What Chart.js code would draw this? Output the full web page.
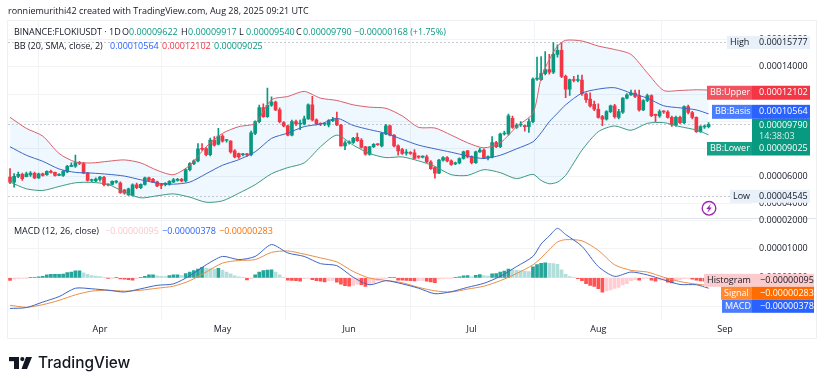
<!DOCTYPE html>
<html>
<head>
<meta charset="utf-8">
<title>FLOKIUSDT</title>
<script src="https://cdn.jsdelivr.net/npm/chart.js@4"></script>
<style>
    body { margin: 0; background: #fff; }
    canvas { display: block; }
</style>
</head>
<body>
<canvas id="chart" width="825" height="385"></canvas>
<script>
// all prices and MACD values are in units of 0.00001
const opens = [
    5.95,5.58,6.0,6.15,5.98,6.1,6.22,5.88,6.19,6.12,
    6.37,6.29,6.07,6.07,6.32,6.73,6.75,7.0,6.93,6.24,
    5.7,5.66,5.78,5.93,5.39,5.41,5.58,5.51,5.0,4.65,
    4.6,5.39,5.17,5.41,5.9,5.78,5.6,5.41,5.39,5.41,
    5.58,5.7,5.78,5.66,6.49,6.93,7.13,8.03,8.03,7.59,
    8.65,8.35,8.94,8.62,8.57,7.86,7.66,7.58,7.6,7.59,
    9.14,9.99,11.02,10.36,11.19,11.42,10.85,9.92,9.68,9.01,
    9.99,9.82,9.82,10.19,11.22,10.12,9.82,9.8,9.75,10.07,
    10.19,9.75,8.23,8.45,8.47,8.84,8.65,8.16,7.6,8.16,
    8.33,8.23,9.09,9.68,9.01,8.23,7.96,7.7,7.71,7.71,
    7.42,7.4,7.42,7.05,6.64,6.24,7.18,7.37,7.13,6.9,
    6.98,7.3,7.86,7.42,7.0,7.79,7.91,7.37,7.42,8.47,
    8.16,9.09,9.1,10.24,9.57,9.75,9.7,9.63,9.99,13.1,
    13.06,13.5,13.79,13.6,14.9,15.19,13.3,12.37,13.06,13.0,
    13.02,12.03,11.64,11.25,10.9,10.36,10.17,10.73,11.15,10.3,
    10.68,11.71,11.95,12.08,11.88,10.85,11.54,11.9,10.48,10.41,
    10.73,10.7,10.31,9.75,10.31,9.92,11.1,10.66,10.31,9.26,
    9.6,9.622
];
const closes = [
    5.58,6.0,6.15,5.83,6.19,6.24,5.88,6.19,6.07,6.37,
    6.29,6.07,6.1,6.37,6.73,6.81,7.0,6.95,6.24,5.7,
    5.72,5.8,5.95,5.39,5.37,5.63,5.63,4.8,4.78,5.09,
    5.39,5.17,5.41,5.9,5.7,5.58,5.31,5.34,5.49,5.63,
    5.75,5.78,5.66,6.49,6.93,7.13,8.01,7.98,7.59,8.65,
    8.28,8.94,8.57,8.65,7.79,7.42,7.42,7.6,7.57,9.18,
    9.99,11.02,10.36,11.19,11.42,10.85,9.99,9.68,9.01,9.99,
    9.82,9.85,10.19,11.22,10.12,9.82,9.8,9.82,10.07,10.17,
    9.75,8.23,8.45,8.52,8.77,8.6,8.11,7.62,8.16,8.33,
    8.31,9.14,9.68,9.01,8.23,7.86,7.67,7.73,7.68,7.3,
    7.4,7.42,7.05,6.56,6.24,7.18,7.37,7.13,6.88,6.98,
    7.3,7.79,7.42,7.0,7.79,7.91,7.37,7.42,8.47,8.16,
    9.09,9.14,10.41,9.57,9.75,9.77,9.63,9.99,13.1,13.12,
    13.5,13.79,13.6,14.9,15.19,13.3,12.37,13.06,13.0,13.02,
    12.03,11.59,11.15,10.9,10.31,10.17,10.73,11.15,10.36,10.73,
    11.71,11.95,12.08,11.83,10.85,11.54,11.9,10.43,10.45,10.73,
    10.7,10.31,9.75,10.31,9.92,11.1,10.66,10.31,9.26,9.63,
    9.62,9.79
];
const highs = [
    6.56,6.2,6.32,6.24,6.32,6.34,6.32,6.24,6.24,6.4,
    6.45,6.32,6.2,6.42,6.8,6.98,7.55,7.1,7.02,6.3,
    5.8,5.9,6.0,6.0,5.45,5.68,5.7,5.6,5.05,5.15,
    5.45,5.5,5.45,5.95,5.95,5.85,5.65,5.45,5.55,5.7,
    5.85,5.85,5.85,6.55,7.0,7.2,8.4,8.4,8.1,8.8,
    8.9,9.5,9.05,8.7,8.62,7.95,7.7,7.68,7.68,9.3,
    10.05,11.2,11.3,12.45,11.8,11.5,11.0,10.0,9.75,10.1,
    10.1,10.1,10.4,11.3,11.85,10.2,9.9,9.9,10.15,10.3,
    10.7,9.8,8.6,8.6,8.85,9.15,8.75,8.2,8.2,8.4,
    8.4,9.2,9.8,9.75,9.05,8.3,8.05,7.95,7.8,7.95,
    7.5,7.5,7.55,7.15,6.7,7.25,7.45,7.45,7.2,7.05,
    7.35,7.85,7.9,7.5,7.85,8.05,8.0,7.5,8.9,8.55,
    9.15,9.3,10.55,10.4,9.85,10.0,9.75,10.2,13.2,14.7,
    14.75,15.1,14.9,15.77,15.6,15.77,13.4,13.1,13.3,13.4,
    13.4,12.1,12.1,11.5,11.3,10.45,10.8,11.2,11.25,10.9,
    11.75,12.05,12.3,12.3,12.3,11.6,12.0,11.95,10.55,10.85,
    10.8,10.8,10.4,10.4,10.4,11.15,11.2,10.75,10.35,9.7,
    9.75,9.917
];
const lows = [
    5.46,5.21,5.9,5.7,5.95,6.0,5.83,5.85,6.02,6.07,
    6.24,6.02,6.05,6.0,6.27,6.7,6.65,6.85,6.2,5.65,
    5.6,5.6,5.65,5.3,5.3,5.37,5.5,4.75,4.7,4.6,
    4.55,5.1,5.1,5.35,5.65,5.55,5.25,5.1,5.3,5.35,
    5.55,5.65,5.6,5.6,6.4,6.85,7.05,7.9,7.5,7.5,
    8.2,8.3,8.5,8.5,7.7,7.35,7.3,7.5,7.45,7.5,
    9.05,9.9,10.3,10.3,11.1,10.8,9.9,9.6,8.95,8.95,
    9.7,9.4,9.75,10.15,10.05,9.75,9.7,9.7,9.6,10.0,
    9.7,8.2,7.95,8.35,8.4,8.55,8.05,7.55,7.55,8.1,
    8.25,8.15,9.05,8.95,8.15,7.55,7.6,7.55,7.6,7.25,
    7.3,7.35,7.0,6.5,5.86,6.2,7.1,7.05,6.8,6.85,
    6.9,7.25,7.35,6.9,6.95,7.75,7.3,7.2,7.35,8.1,
    8.1,9.0,9.0,9.5,9.5,9.65,9.3,9.2,9.9,13.0,
    13.0,13.4,13.45,13.5,14.7,13.2,11.75,11.9,12.9,12.9,
    11.9,11.4,11.05,10.8,10.25,9.7,10.1,10.65,10.25,10.2,
    10.6,11.65,11.9,11.75,10.75,10.8,11.45,10.35,10.0,10.3,
    10.6,10.25,9.65,9.65,9.85,9.85,10.55,10.2,9.2,9.2,
    9.5,9.54
];
const histogram = [
    -.09,-.05,-.03,-.02,-.01,.01,.02,.03,.05,.1,
    .12,.12,.12,.13,.18,.2,.24,.24,.17,.12,
    .08,.06,.04,.02,-.01,-.01,.01,-.04,-.05,-.06,
    -.08,-.03,.01,.05,.1,.1,.07,.05,.04,.08,
    .1,.1,.08,.15,.2,.25,.3,.36,.34,.32,
    .3,.33,.27,.2,.14,.07,.03,.01,-.07,-.03,
    .1,.2,.25,.27,.28,.2,.1,.02,-.08,-.09,
    -.1,-.12,-.03,-.02,-.06,-.1,-.12,-.14,-.1,-.09,
    -.15,-.22,-.27,-.29,-.26,-.22,-.24,-.3,-.25,-.18,
    -.1,-.05,-.01,.01,.01,-.08,-.085,-.09,-.1,-.11,
    -.1,-.09,-.12,-.14,-.17,-.05,-.03,-.02,-.01,.01,
    .03,.07,.08,.03,.09,.11,.08,.06,.14,.15,
    .2,.23,.3,.28,.26,.24,.23,.22,.38,.46,
    .5,.52,.5,.49,.47,.28,.12,.04,.01,-.03,
    -.1,-.2,-.26,-.3,-.38,-.5,-.45,-.42,-.37,-.33,
    -.25,-.2,-.1,-.06,-.08,-.03,-.01,-.08,-.12,-.08,
    -.08,-.15,-.18,-.1,-.06,-.03,-.02,-.05,-.08,-.11,
    -.12,-.095
];

const lineDays = [0,4,8,12,16,20,24,28,32,36,40,44,48,52,56,60,64,68,72,76,80,84,88,92,96,100,104,108,112,116,120,124,128,130,132,134,136,140,144,148,152,156,160,164,168,171];
const bbUpper = [10.31,9.5,8.94,7.67,7.05,6.98,7.1,7.2,6.98,6.44,6.12,6.81,8.16,9.14,9.63,9.87,11.59,11.83,12.2,11.71,11.54,11.22,11.05,10.97,10.41,9.58,9.53,9.01,8.45,8.08,8.45,9.63,10.61,13.18,14.53,15.51,15.93,15.88,15.51,15.26,14.9,13.55,12.27,12.27,12.32,12.3];
const bbBasis = [8.16,7.54,7.1,6.54,6.29,6.24,6.15,6.02,5.75,5.51,5.43,5.58,6.19,6.81,7.22,7.79,8.77,9.16,9.63,9.82,10.24,9.72,9.41,9.14,8.7,8.28,8.01,7.76,7.49,7.3,7.54,8.01,8.52,9.18,9.99,10.61,11.22,12.08,12.37,12.47,12.08,11.71,11.15,11.0,10.85,10.56];
const bbLower = [5.58,5.09,4.97,5.26,5.53,5.56,5.41,4.85,4.43,4.58,4.72,4.48,4.11,4.21,4.77,5.39,6.19,6.64,6.98,8.16,9.01,8.28,7.67,7.37,7.42,7.13,6.73,6.12,6.07,6.49,6.27,5.83,6.15,5.7,5.46,5.58,6.07,7.91,9.26,9.68,9.36,9.87,9.92,9.63,9.38,9.03];
const macdLine = [-1.06,-1.03,-.84,-.65,-.36,-.38,-.43,-.49,-.38,-.26,-.21,.07,.45,.74,.63,.74,1.15,.86,.74,.49,.42,.02,-.24,-.1,-.21,-.36,-.55,-.48,-.33,-.19,.05,.39,.74,1.17,1.45,1.71,1.5,1.09,.39,.05,.2,.1,-.07,-.23,-.24,-.36];
const signalLine = [-.95,-1.02,-.93,-.78,-.59,-.46,-.43,-.46,-.43,-.36,-.29,-.1,.2,.51,.6,.63,.88,.93,.82,.69,.55,.22,-.01,-.09,-.17,-.33,-.45,-.49,-.39,-.29,-.1,.15,.45,.69,.98,1.24,1.32,1.28,.95,.45,.26,.2,.02,-.13,-.22,-.26];

const lastPrice = 9.79;
const highPrice = 15.777;
const lowPrice = 4.545;

const priceMin = 2.96, priceMax = 17.34;
const macdMin = -1.46, macdMax = 2.07;

const UP = '#089981', DOWN = '#F23645';
const FONT = '"Open Sans", sans-serif';
const TEXT = '#131722';

// one label per day, Mar 10 up to Sep 7, the last ones stay empty
const dayLabels = [];
for (let i = 0; i < 182; i++) {
    dayLabels.push(new Date(Date.UTC(2025, 2, 10 + i)).toISOString().slice(0, 10));
}
const monthNames = { '04': 'Apr', '05': 'May', '06': 'Jun', '07': 'Jul', '08': 'Aug', '09': 'Sep' };

function linePoints(values) {
    return values.map((v, k) => ({ x: dayLabels[lineDays[k]], y: v }));
}
function histColor(v, i) {
    var prev = i > 0 ? histogram[i - 1] : 0;
    if (v >= 0) return v >= prev ? '#26a69a' : '#b2dfdb';
    return v < prev ? '#ff5252' : '#ffcdd2';
}
function fmt(v) {
    return (v * 0.00001).toFixed(8);
}
function drawText(ctx, str, x, y, color, size, weight) {
    ctx.font = (weight || 400) + ' ' + (size || 9) + 'px ' + FONT;
    ctx.fillStyle = color;
    ctx.textAlign = 'left';
    ctx.textBaseline = 'middle';
    ctx.fillText(str, x, y);
}
function drawTag(ctx, x0, x1, x2, y0, y1, colorA, colorB, label, value, textColor, valueX) {
    ctx.fillStyle = colorA;
    ctx.fillRect(x0, y0, x1 - x0, y1 - y0);
    ctx.fillStyle = colorB;
    ctx.fillRect(x1, y0, x2 - x1, y1 - y0);
    var mid = (y0 + y1) / 2;
    drawText(ctx, label, x0 + 3, mid, textColor);
    drawText(ctx, value, valueX, mid, textColor);
}

// frame, pane divider and the dashed price lines
const framePlugin = {
    id: 'frame',
    beforeDraw(chart) {
        const ctx = chart.ctx;
        ctx.save();
        ctx.fillStyle = '#fff';
        ctx.fillRect(0, 0, 825, 385);
        ctx.strokeStyle = '#eef0f3';
        ctx.lineWidth = 1;
        ctx.strokeRect(7.5, 20.5, 809, 318);
        ctx.strokeStyle = '#e0e3eb';
        ctx.beginPath();
        ctx.moveTo(8, 218.5);
        ctx.lineTo(816, 218.5);
        ctx.stroke();
        ctx.restore();
    },
    beforeDatasetsDraw(chart) {
        const ctx = chart.ctx;
        const y = chart.scales.y;
        ctx.save();
        ctx.setLineDash([2, 2]);
        ctx.lineWidth = 1;
        ctx.strokeStyle = '#c4c8d0';
        [lastPrice, highPrice, lowPrice].forEach(v => {
            var py = Math.round(y.getPixelForValue(v)) + 0.5;
            ctx.beginPath();
            ctx.moveTo(chart.chartArea.left, py);
            ctx.lineTo(chart.chartArea.right, py);
            ctx.stroke();
        });
        ctx.restore();
    },
    afterDraw(chart) {
        const ctx = chart.ctx;
        const y = chart.scales.y;
        const m = chart.scales.yMacd;
        ctx.save();

        drawText(ctx, 'ronniemurithi42 created with TradingView.com, Aug 28, 2025 09:21 UTC', 8, 11.5, TEXT, 9);

        drawText(ctx, 'BINANCE:FLOKIUSDT · 1D', 14, 32.5, TEXT);
        [['O', '0.00009622', 122], ['H', '0.00009917', 181], ['L', '0.00009540', 239], ['C', '0.00009790', 296]].forEach(o => {
            drawText(ctx, o[0], o[2], 32.5, TEXT);
            drawText(ctx, o[1], o[2] + 7, 32.5, UP);
        });
        drawText(ctx, '−0.00000168 (+1.75%)', 354, 32.5, UP);
        drawText(ctx, 'BB (20, SMA, close, 2)', 14, 46, TEXT);
        drawText(ctx, '0.00010564', 110, 46, '#2962FF');
        drawText(ctx, '0.00012102', 162, 46, DOWN);
        drawText(ctx, '0.00009025', 214, 46, UP);

        drawText(ctx, 'MACD (12, 26, close)', 14, 231, TEXT);
        drawText(ctx, '−0.00000095', 105, 231, '#fbc9ce');
        drawText(ctx, '−0.00000378', 162, 231, '#2962FF');
        drawText(ctx, '−0.00000283', 219, 231, '#FF6D00');

        // price axis tags
        var py = y.getPixelForValue(highPrice);
        drawTag(ctx, 727, 755, 810, py - 6.5, py + 6.5, '#e8f0fa', '#e8f0fa', 'High', fmt(highPrice), TEXT, 759);
        py = y.getPixelForValue(12.102);
        drawTag(ctx, 707, 752, 810, py - 7, py + 7, '#f0525f', DOWN, 'BB:Upper', '0.00012102', '#fff', 759);
        py = y.getPixelForValue(10.564) - 2;
        drawTag(ctx, 712, 752, 810, py - 7, py + 7, '#4a7cff', '#2962FF', 'BB:Basis', '0.00010564', '#fff', 759);
        ctx.fillStyle = UP;
        ctx.fillRect(752, 119, 58, 24);
        drawText(ctx, fmt(lastPrice), 759, 125, '#fff');
        drawText(ctx, '14:38:03', 759, 136, '#d5efe9');
        drawTag(ctx, 707, 752, 810, 142, 155.5, '#16a085', UP, 'BB:Lower', '0.00009025', '#fff', 759);
        py = y.getPixelForValue(lowPrice);
        drawTag(ctx, 730, 755, 810, py - 6.5, py + 6.5, '#e8f0fa', '#e8f0fa', 'Low', fmt(lowPrice), TEXT, 759);

        // MACD axis tags
        py = m.getPixelForValue(0) + 2.5;
        drawTag(ctx, 704, 752, 814, py - 6.5, py + 6.5, '#fccbcd', '#fccbcd', 'Histogram', '−0.00000095', TEXT, 760);
        drawTag(ctx, 721, 752, 814, py + 6.5, py + 19.5, '#ff8a33', '#FF6D00', 'Signal', '−0.00000283', '#fff', 760);
        drawTag(ctx, 722, 752, 814, py + 19.5, py + 32.5, '#4a7cff', '#2962FF', 'MACD', '−0.00000378', '#fff', 760);

        // lightning badge
        ctx.strokeStyle = '#9c27b0';
        ctx.lineWidth = 1.4;
        ctx.beginPath();
        ctx.arc(709, 208.3, 6.8, 0, Math.PI * 2);
        ctx.stroke();
        ctx.fillStyle = '#9c27b0';
        ctx.beginPath();
        ctx.moveTo(710.8, 203.8);
        ctx.lineTo(706.3, 209);
        ctx.lineTo(708.7, 209);
        ctx.lineTo(707.4, 212.8);
        ctx.lineTo(711.8, 207.6);
        ctx.lineTo(709.4, 207.6);
        ctx.closePath();
        ctx.fill();

        // TradingView logo
        ctx.fillStyle = '#131722';
        ctx.fillRect(9, 357, 10, 4.2);
        ctx.fillRect(14, 357, 5, 12);
        ctx.beginPath();
        ctx.arc(22.3, 359.1, 2.1, 0, Math.PI * 2);
        ctx.fill();
        ctx.beginPath();
        ctx.moveTo(26, 357);
        ctx.lineTo(32, 357);
        ctx.lineTo(27, 369);
        ctx.lineTo(21.5, 369);
        ctx.closePath();
        ctx.fill();
        ctx.font = '500 15.4px Inter, sans-serif';
        ctx.textAlign = 'left';
        ctx.textBaseline = 'alphabetic';
        ctx.fillText('TradingView', 38, 368);
        ctx.restore();
    }
};

const data = {
    labels: dayLabels,
    datasets: [
        {
            type: 'line', label: 'BB upper', yAxisID: 'y', order: 1,
            data: linePoints(bbUpper),
            borderColor: '#d9606a', borderWidth: 1, pointRadius: 0, tension: 0.25,
            fill: { target: 2, above: 'rgba(33,150,243,0.07)', below: 'rgba(33,150,243,0.07)' }
        },
        {
            type: 'line', label: 'BB basis', yAxisID: 'y', order: 1,
            data: linePoints(bbBasis),
            borderColor: '#3f66c4', borderWidth: 1, pointRadius: 0, tension: 0.25
        },
        {
            type: 'line', label: 'BB lower', yAxisID: 'y', order: 1,
            data: linePoints(bbLower),
            borderColor: '#3f9a82', borderWidth: 1, pointRadius: 0, tension: 0.25
        },
        {
            type: 'bar', label: 'Wick', yAxisID: 'y', order: 3, grouped: false,
            data: lows.map((v, i) => [v, highs[i]]),
            backgroundColor: closes.map((c, i) => c >= opens[i] ? UP : DOWN),
            barThickness: 1
        },
        {
            type: 'bar', label: 'Body', yAxisID: 'y', order: 2, grouped: false,
            data: opens.map((v, i) => [v, closes[i]]),
            backgroundColor: closes.map((c, i) => c >= opens[i] ? UP : DOWN),
            barThickness: 3, minBarLength: 1
        },
        {
            type: 'bar', label: 'Histogram', yAxisID: 'yMacd', order: 4, grouped: false,
            data: histogram,
            backgroundColor: histogram.map(histColor),
            barThickness: 3
        },
        {
            type: 'line', label: 'MACD', yAxisID: 'yMacd', order: 1,
            data: linePoints(macdLine),
            borderColor: '#3f66c4', borderWidth: 1, pointRadius: 0, tension: 0.25
        },
        {
            type: 'line', label: 'Signal', yAxisID: 'yMacd', order: 1,
            data: linePoints(signalLine),
            borderColor: '#e8904a', borderWidth: 1, pointRadius: 0, tension: 0.25
        }
    ]
};

const sideAxis = {
    position: 'right',
    stack: 'panes',
    grid: { color: '#f2f3f5', drawTicks: false },
    border: { display: false },
    afterFit(scale) { scale.width = 64.5; }
};

const config = {
    type: 'bar',
    data: data,
    plugins: [framePlugin],
    options: {
        responsive: false,
        animation: false,
        layout: { padding: { left: 8, right: 9, top: 21, bottom: 47 } },
        plugins: {
            legend: { display: false },
            tooltip: { enabled: false },
            filler: { drawTime: 'beforeDatasetsDraw' }
        },
        scales: {
            x: {
                type: 'category',
                offset: true,
                grid: { color: '#f2f3f5', drawTicks: false },
                border: { display: false },
                afterBuildTicks(axis) {
                    axis.ticks = axis.ticks.filter(t => dayLabels[t.value].slice(8) === '01');
                },
                afterFit(scale) { scale.height = 18; },
                ticks: {
                    autoSkip: false,
                    maxRotation: 0,
                    padding: 4,
                    color: TEXT,
                    font: { family: FONT, size: 9 },
                    callback(value) { return monthNames[dayLabels[value].slice(5, 7)]; }
                }
            },
            y: Object.assign({}, sideAxis, {
                stackWeight: 197,
                weight: 1,
                min: priceMin,
                max: priceMax,
                ticks: {
                    stepSize: 2,
                    autoSkip: false,
                    includeBounds: false,
                    padding: 7.5,
                    color: TEXT,
                    font: { family: FONT, size: 9 },
                    callback: v => fmt(v)
                }
            }),
            yMacd: Object.assign({}, sideAxis, {
                stackWeight: 102,
                weight: 2,
                min: macdMin,
                max: macdMax,
                ticks: {
                    stepSize: 1,
                    autoSkip: false,
                    includeBounds: false,
                    padding: 7.5,
                    color: TEXT,
                    font: { family: FONT, size: 9 },
                    callback: v => fmt(v)
                }
            })
        }
    }
};

const chart1 = new Chart(document.getElementById('chart'), config);
</script>
</body>
</html>
